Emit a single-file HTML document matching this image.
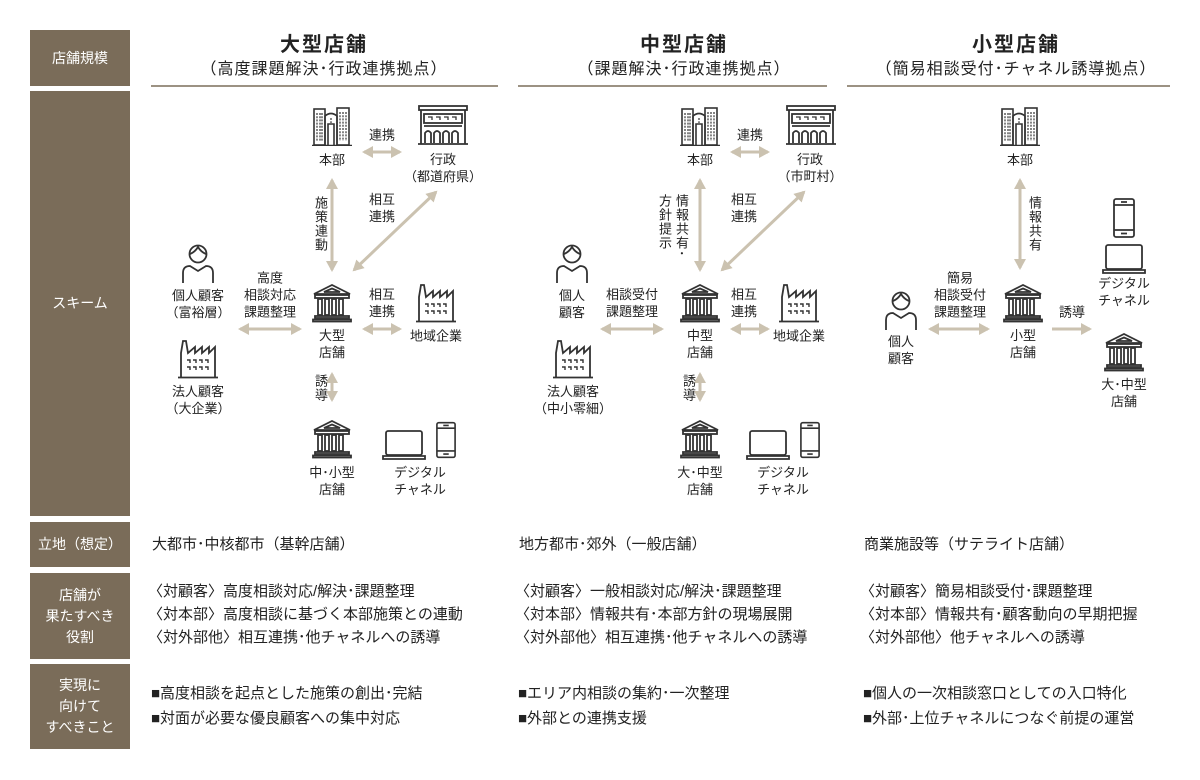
<!DOCTYPE html>
<html><head><meta charset="utf-8">
<style>
body{margin:0;width:1200px;height:780px;background:#fff;position:relative;overflow:hidden;font-family:"Liberation Sans","Noto Sans CJK JP",sans-serif;color:#222}
.box{position:absolute;left:30px;width:100px;background:#7a6c59;color:#fff;font-size:14px;display:flex;align-items:center;justify-content:center;text-align:center;line-height:21px}
.t{position:absolute;transform:translate(-50%,-50%);font-size:13px;line-height:17px;text-align:center;white-space:nowrap}
.v{position:absolute;writing-mode:vertical-rl;font-size:13px;line-height:15px;letter-spacing:1px}
.h1{position:absolute;transform:translateX(-50%);text-align:center;white-space:nowrap}
.h1 b{display:block;font-size:20px;font-weight:bold;letter-spacing:2px;line-height:26px}
.h1 span{display:block;font-size:16px;line-height:24px;letter-spacing:1px}
.rule{position:absolute;top:85px;height:2px;background:#9c9283}
.tx{position:absolute;font-size:15px;line-height:23px;white-space:nowrap}
svg{position:absolute;left:0;top:0}
</style></head><body>
<div class="box" style="top:30px;height:56px">店舗規模</div>
<div class="box" style="top:91px;height:425px">スキーム</div>
<div class="box" style="top:522px;height:45px">立地（想定）</div>
<div class="box" style="top:573px;height:86px">店舗が<br>果たすべき<br>役割</div>
<div class="box" style="top:664px;height:85px">実現に<br>向けて<br>すべきこと</div>

<div class="h1" style="left:324px;top:32px"><b>大型店舗</b><span>（高度課題解決･行政連携拠点）</span></div>
<div class="h1" style="left:684px;top:32px"><b>中型店舗</b><span>（課題解決･行政連携拠点）</span></div>
<div class="h1" style="left:1016px;top:32px"><b>小型店舗</b><span>（簡易相談受付･チャネル誘導拠点）</span></div>
<div class="rule" style="left:151px;width:347px"></div>
<div class="rule" style="left:518px;width:309px"></div>
<div class="rule" style="left:847px;width:323px"></div>

<svg width="1200" height="780" viewBox="0 0 1200 780">
<defs>
<marker id="ah" markerUnits="userSpaceOnUse" markerWidth="12" markerHeight="12" refX="9" refY="6" orient="auto-start-reverse"><path d="M0 0 L11 6 L0 12 Z" fill="#cbc2b0"/></marker>
<symbol id="bank" viewBox="0 0 40 40"><g fill="none" stroke="#333" stroke-width="1.8"><path d="M2 11 L20 2 L38 11 Z"/><path d="M12 9 L20 5.5 L28 9 Z"/><rect x="3" y="12" width="34" height="3"/><rect x="6" y="16" width="4" height="16"/><rect x="13" y="16" width="4" height="16"/><rect x="20" y="16" width="4" height="16"/><rect x="27" y="16" width="4" height="16"/><rect x="3" y="33" width="34" height="2"/><rect x="1" y="36.5" width="38" height="2"/></g></symbol>
<symbol id="bld" viewBox="0 0 40 40"><g fill="none" stroke="#333" stroke-width="1.6"><rect x="2" y="3" width="11" height="36"/><path d="M13 39 V10 Q19 5 25 10 V39"/><rect x="25" y="2" width="12" height="37"/><path d="M16 39 V18 H22 V39"/><path d="M5 7 V35 M8 7 V35 M10 7V35 M28 6 V35 M31 6 V35 M34 6 V35 M19 12 V17" stroke-dasharray="2 1.2" stroke-width="1.2"/><path d="M0 39.5 H40"/></g></symbol>
<symbol id="gov" viewBox="0 0 50 40"><g fill="none" stroke="#333" stroke-width="1.8"><rect x="1" y="1" width="48" height="4"/><path d="M3 5 V39 M47 5 V39"/><rect x="6" y="9" width="38" height="9"/><path d="M10 12 H14 V15 M18 12 H22 V15 M26 12 H30 V15 M34 12 H38 V15" stroke-width="1.3"/><path d="M6 21 H44"/><path d="M7 38 V28 Q10 24 13 28 V38 M16 38 V28 Q19 24 22 28 V38 M25 38 V28 Q28 24 31 28 V38 M34 38 V28 Q37 24 40 28 V38"/><path d="M0 39 H50"/></g></symbol>
<symbol id="fac" viewBox="0 0 40 40"><g fill="none" stroke="#333" stroke-width="1.8"><path d="M3 38 V14 L5 2 H8 L10 14 L17 8 V14 L24 8 V14 L31 8 V14 L37 8 V38"/><path d="M0 38.5 H40"/><path d="M9 21 H12 V24 M15 21 H18 V24 M21 21 H24 V24 M27 21 H30 V24 M9 28 H12 V31 M15 28 H18 V31 M21 28 H24 V31 M27 28 H30 V31" stroke-width="1.4"/></g></symbol>
<symbol id="per" viewBox="0 0 34 40"><g fill="none" stroke="#333" stroke-width="1.8"><circle cx="17" cy="11" r="8.5"/><path d="M9 11 Q14 9 17 4 Q20 9 25 11"/><path d="M2 40 V30 Q2 23 9 23 L17 28 L25 23 Q32 23 32 30 V40"/></g></symbol>
<symbol id="lap" viewBox="0 0 44 30"><g fill="none" stroke="#333" stroke-width="1.8"><rect x="4" y="1" width="36" height="24" rx="2"/><path d="M1 26 H43 V29 H1 Z"/></g></symbol>
<symbol id="pho" viewBox="0 0 22 40"><g fill="none" stroke="#333" stroke-width="1.8"><rect x="1" y="1" width="20" height="38" rx="2"/><path d="M1 7 H21 M1 32 H21 M8 4 H14 M8 35.5 H14"/></g></symbol>
</defs>
<g stroke="#cbc2b0" stroke-width="3" fill="none">
<line x1="364" y1="152" x2="400" y2="152" marker-start="url(#ah)" marker-end="url(#ah)"/>
<line x1="332" y1="180" x2="332" y2="270" marker-start="url(#ah)" marker-end="url(#ah)"/>
<line x1="354" y1="270" x2="436" y2="192" marker-start="url(#ah)" marker-end="url(#ah)"/>
<line x1="240" y1="329" x2="300" y2="329" marker-start="url(#ah)" marker-end="url(#ah)"/>
<line x1="364" y1="329" x2="400" y2="329" marker-start="url(#ah)" marker-end="url(#ah)"/>
<line x1="332" y1="374" x2="332" y2="400" marker-start="url(#ah)" marker-end="url(#ah)"/>
<line x1="732" y1="152" x2="768" y2="152" marker-start="url(#ah)" marker-end="url(#ah)"/>
<line x1="700" y1="180" x2="700" y2="270" marker-start="url(#ah)" marker-end="url(#ah)"/>
<line x1="722" y1="270" x2="804" y2="192" marker-start="url(#ah)" marker-end="url(#ah)"/>
<line x1="602" y1="329" x2="662" y2="329" marker-start="url(#ah)" marker-end="url(#ah)"/>
<line x1="732" y1="329" x2="768" y2="329" marker-start="url(#ah)" marker-end="url(#ah)"/>
<line x1="700" y1="374" x2="700" y2="400" marker-start="url(#ah)" marker-end="url(#ah)"/>
<line x1="1020" y1="180" x2="1020" y2="268" marker-start="url(#ah)" marker-end="url(#ah)"/>
<line x1="930" y1="329" x2="988" y2="329" marker-start="url(#ah)" marker-end="url(#ah)"/>
<line x1="1052" y1="329" x2="1090" y2="329" marker-end="url(#ah)"/>
</g>
<use href="#bld" x="312" y="106" width="40" height="40"/>
<use href="#gov" x="418" y="105" width="50" height="40"/>
<use href="#bank" x="312" y="283" width="40" height="40"/>
<use href="#per" x="181" y="243" width="34" height="40"/>
<use href="#fac" x="178" y="339" width="40" height="40"/>
<use href="#fac" x="416" y="283" width="40" height="40"/>
<use href="#bank" x="312" y="419" width="40" height="40"/>
<use href="#lap" x="382" y="430" width="44" height="30"/>
<use href="#pho" x="436" y="420" width="20" height="40"/>
<use href="#bld" x="680" y="106" width="40" height="40"/>
<use href="#gov" x="786" y="105" width="50" height="40"/>
<use href="#bank" x="680" y="283" width="40" height="40"/>
<use href="#per" x="555" y="243" width="34" height="40"/>
<use href="#fac" x="553" y="339" width="40" height="40"/>
<use href="#fac" x="779" y="283" width="40" height="40"/>
<use href="#bank" x="680" y="419" width="40" height="40"/>
<use href="#lap" x="746" y="430" width="44" height="30"/>
<use href="#pho" x="800" y="420" width="20" height="40"/>
<use href="#bld" x="1000" y="106" width="40" height="40"/>
<use href="#per" x="884" y="290" width="34" height="40"/>
<use href="#bank" x="1003" y="283" width="40" height="40"/>
<use href="#pho" x="1113" y="198" width="22" height="40"/>
<use href="#lap" x="1102" y="244" width="44" height="30"/>
<use href="#bank" x="1104" y="332" width="40" height="40"/>
</svg>

<div class="t" style="left:332px;top:160px">本部</div>
<div class="t" style="left:443px;top:168px">行政<br>（都道府県）</div>
<div class="t" style="left:382px;top:135px">連携</div>
<div class="v" style="left:313px;top:196px">施策連動</div>
<div class="t" style="left:382px;top:208px">相互<br>連携</div>
<div class="t" style="left:270px;top:295px">高度<br>相談対応<br>課題整理</div>
<div class="t" style="left:198px;top:304px">個人顧客<br>（富裕層）</div>
<div class="t" style="left:198px;top:400px">法人顧客<br>（大企業）</div>
<div class="t" style="left:382px;top:303px">相互<br>連携</div>
<div class="t" style="left:332px;top:344px">大型<br>店舗</div>
<div class="t" style="left:436px;top:336px">地域企業</div>
<div class="v" style="left:313px;top:374px">誘導</div>
<div class="t" style="left:332px;top:481px">中･小型<br>店舗</div>
<div class="t" style="left:420px;top:481px">デジタル<br>チャネル</div>
<div class="t" style="left:700px;top:160px">本部</div>
<div class="t" style="left:810px;top:168px">行政<br>（市町村）</div>
<div class="t" style="left:750px;top:135px">連携</div>
<div class="v" style="left:674px;top:194px">情報共有･</div>
<div class="v" style="left:657px;top:194px">方針提示</div>
<div class="t" style="left:744px;top:208px">相互<br>連携</div>
<div class="t" style="left:632px;top:303px">相談受付<br>課題整理</div>
<div class="t" style="left:572px;top:304px">個人<br>顧客</div>
<div class="t" style="left:573px;top:400px">法人顧客<br>（中小零細）</div>
<div class="t" style="left:744px;top:303px">相互<br>連携</div>
<div class="t" style="left:700px;top:344px">中型<br>店舗</div>
<div class="t" style="left:799px;top:336px">地域企業</div>
<div class="v" style="left:681px;top:374px">誘導</div>
<div class="t" style="left:700px;top:481px">大･中型<br>店舗</div>
<div class="t" style="left:783px;top:481px">デジタル<br>チャネル</div>
<div class="t" style="left:1020px;top:160px">本部</div>
<div class="v" style="left:1027px;top:196px">情報共有</div>
<div class="t" style="left:960px;top:295px">簡易<br>相談受付<br>課題整理</div>
<div class="t" style="left:901px;top:350px">個人<br>顧客</div>
<div class="t" style="left:1023px;top:344px">小型<br>店舗</div>
<div class="t" style="left:1072px;top:312px">誘導</div>
<div class="t" style="left:1124px;top:292px">デジタル<br>チャネル</div>
<div class="t" style="left:1124px;top:393px">大･中型<br>店舗</div>

<div class="tx" style="left:152px;top:533px">大都市･中核都市（基幹店舗）</div>
<div class="tx" style="left:519px;top:533px">地方都市･郊外（一般店舗）</div>
<div class="tx" style="left:864px;top:533px">商業施設等（サテライト店舗）</div>

<div class="tx" style="left:148px;top:580px">〈対顧客〉高度相談対応/解決･課題整理<br>〈対本部〉高度相談に基づく本部施策との連動<br>〈対外部他〉相互連携･他チャネルへの誘導</div>
<div class="tx" style="left:515px;top:580px">〈対顧客〉一般相談対応/解決･課題整理<br>〈対本部〉情報共有･本部方針の現場展開<br>〈対外部他〉相互連携･他チャネルへの誘導</div>
<div class="tx" style="left:860px;top:580px">〈対顧客〉簡易相談受付･課題整理<br>〈対本部〉情報共有･顧客動向の早期把握<br>〈対外部他〉他チャネルへの誘導</div>

<div class="tx" style="left:151px;top:681px;line-height:25px">■高度相談を起点とした施策の創出･完結<br>■対面が必要な優良顧客への集中対応</div>
<div class="tx" style="left:518px;top:681px;line-height:25px">■エリア内相談の集約･一次整理<br>■外部との連携支援</div>
<div class="tx" style="left:863px;top:681px;line-height:25px">■個人の一次相談窓口としての入口特化<br>■外部･上位チャネルにつなぐ前提の運営</div>
</body></html>
